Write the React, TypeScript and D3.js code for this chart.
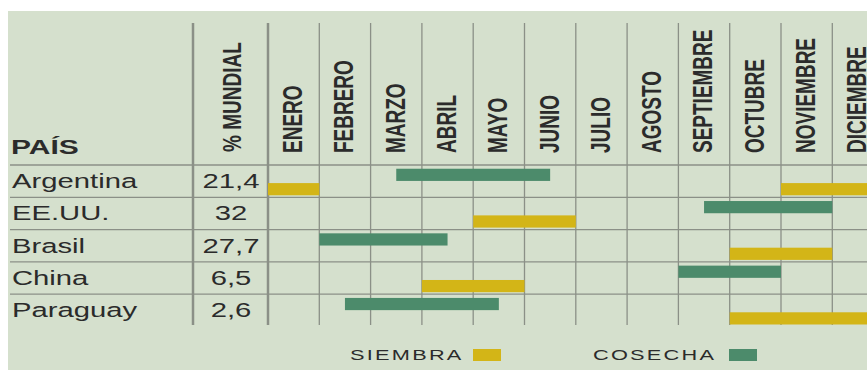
import React from "react";
import * as d3 from "d3";

// ---- data ----
const countries = ["Argentina", "EE.UU.", "Brasil", "China", "Paraguay"];
const worldShare = ["21,4", "32", "27,7", "6,5", "2,6"];
const months = [
  "ENERO", "FEBRERO", "MARZO", "ABRIL", "MAYO", "JUNIO",
  "JULIO", "AGOSTO", "SEPTIEMBRE", "OCTUBRE", "NOVIEMBRE", "DICIEMBRE",
];
// periods expressed in months from 1 January (0) to 31 December (12)
const siembra: [number, number][][] = [
  [[0, 1], [10, 12]],
  [[4, 6]],
  [[9, 11]],
  [[3, 5]],
  [[9, 12]],
];
const cosecha: [number, number][][] = [
  [[2.5, 5.5]],
  [[8.5, 11]],
  [[1, 3.5]],
  [[8, 10]],
  [[1.5, 4.5]],
];
const seriesNames = ["COSECHA", "SIEMBRA"];
const legendLabels = ["SIEMBRA", "COSECHA"];

// ---- styles ----
const W = 867;
const H = 370;
const BG = "#d5e0cd";
const YELLOW = "#d3b517";
const GREEN = "#4c8b6b";
const GRID = "#8b9087";
const TEXT = "#2b2b2b";
const SX = 1.5; // horizontal stretch of the original artwork

export default function App() {
  const x = d3.scaleLinear().domain([0, 12]).range([268, 268 + 12 * 51.3]);
  const y = d3.scaleBand<string>().domain(countries).range([165, 326.5]);
  const sub = d3
    .scaleBand<string>()
    .domain(seriesNames)
    .range([0, y.bandwidth()])
    .paddingInner(0.15)
    .paddingOuter(0.2)
    .align(0.65);
  const color = d3.scaleOrdinal<string, string>().domain(seriesNames).range([GREEN, YELLOW]);

  const monthLines = d3.range(0, 13).map((m) => x(m));
  const rowLines = countries.slice(1).map((c) => y(c)!);

  return (
    <svg
      width={W}
      height={H}
      style={{ position: "absolute", left: 0, top: 0, background: "#fff" }}
      fontFamily="'Liberation Sans', Arial, sans-serif"
    >
      <rect x={8} y={11} width={W - 8} height={H - 11} fill={BG} />

      {/* horizontal lines */}
      <line x1={10} x2={W} y1={165} y2={165} stroke={GRID} strokeWidth={1.3} />
      {rowLines.map((ry, i) => (
        <line key={i} x1={10} x2={W} y1={ry} y2={ry} stroke={GRID} strokeWidth={1.3} />
      ))}

      {/* vertical lines */}
      <line x1={193} x2={193} y1={23} y2={325} stroke={GRID} strokeWidth={2.5} />
      {monthLines.map((mx, i) => (
        <line
          key={i}
          x1={mx}
          x2={mx}
          y1={23}
          y2={325}
          stroke={GRID}
          strokeWidth={i === 0 ? 2.5 : 1.3}
        />
      ))}

      {/* bars */}
      {countries.map((c, i) => (
        <g key={c} transform={`translate(0,${y(c)})`}>
          {cosecha[i].map(([a, b], k) => (
            <rect
              key={"c" + k}
              x={x(a)}
              width={x(b) - x(a)}
              y={sub("COSECHA")}
              height={sub.bandwidth()}
              fill={color("COSECHA")}
            />
          ))}
          {siembra[i].map(([a, b], k) => (
            <rect
              key={"s" + k}
              x={x(a)}
              width={x(b) - x(a)}
              y={sub("SIEMBRA")}
              height={sub.bandwidth()}
              fill={color("SIEMBRA")}
            />
          ))}
        </g>
      ))}

      {/* header */}
      <text
        transform={`translate(11,154) scale(${SX},1)`}
        fontSize={20}
        fontWeight="bold"
        fill={TEXT}
      >
        PAÍS
      </text>
      <text
        transform={`translate(231,152) scale(1.4,1) rotate(-90)`}
        dy="0.36em"
        fontSize={19}
        fontWeight="bold"
        fill={TEXT}
      >
        % MUNDIAL
      </text>
      {months.map((m, i) => (
        <text
          key={m}
          transform={`translate(${(x(i) + x(i + 1)) / 2 - 1.5},153) scale(1.45,1) rotate(-90)`}
          dy="0.36em"
          fontSize={19}
          fontWeight="bold"
          fill={TEXT}
        >
          {m}
        </text>
      ))}

      {/* row labels */}
      {countries.map((c, i) => {
        const cy = y(c)! + y.bandwidth() / 2 + 7;
        return (
          <g key={c}>
            <text transform={`translate(12,${cy}) scale(${SX},1)`} fontSize={19.5} fill={TEXT}>
              {c}
            </text>
            <text
              transform={`translate(231,${cy}) scale(${SX},1)`}
              fontSize={19.5}
              textAnchor="middle"
              fill={TEXT}
            >
              {worldShare[i]}
            </text>
          </g>
        );
      })}

      {/* legend */}
      <text
        transform={`translate(350,360) scale(${SX},1)`}
        fontSize={14.5}
        letterSpacing={1.5}
        fill={TEXT}
      >
        {legendLabels[0]}
      </text>
      <rect x={473} y={349} width={28} height={12} fill={YELLOW} />
      <text
        transform={`translate(593,360) scale(${SX},1)`}
        fontSize={14.5}
        letterSpacing={1.5}
        fill={TEXT}
      >
        {legendLabels[1]}
      </text>
      <rect x={729} y={349} width={28} height={12} fill={GREEN} />
    </svg>
  );
}
